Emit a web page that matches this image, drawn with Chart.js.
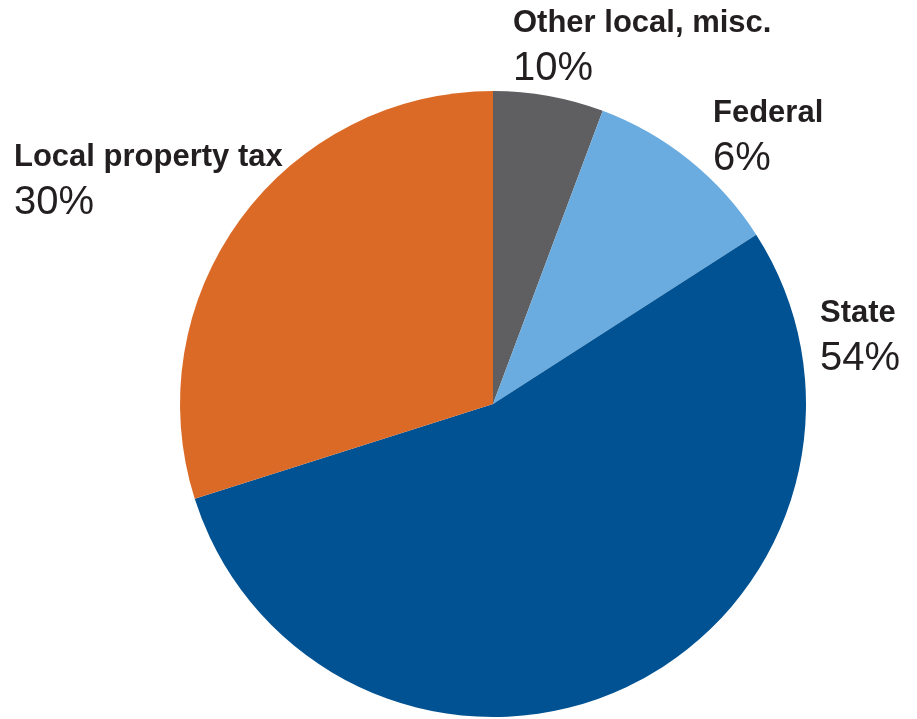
<!DOCTYPE html>
<html>
<head>
<meta charset="utf-8">
<title>Revenue sources</title>
<script src="https://cdn.jsdelivr.net/npm/chart.js@4/dist/chart.umd.min.js"></script>
<style>
    html, body { margin: 0; padding: 0; background: #fff; }
    canvas { display: block; }
</style>
</head>
<body>
<canvas id="pie" width="917" height="719"></canvas>
<script>
const categories = ['Other local, misc.', 'Federal', 'State', 'Local property tax'];
const shares = [5.7, 10.2, 54.2, 29.9];
// percent text printed under each label, as in the original graphic
const shareLabels = ['10%', '6%', '54%', '30%'];
const colors = ['#5f5f62', '#6aacdf', '#005293', '#dc6a27'];

// where each label's first line sits (left edge, baseline)
const labelSpots = [
    { x: 513, y: 32 },
    { x: 713, y: 122 },
    { x: 820, y: 322 },
    { x: 14, y: 166 }
];

const outsideLabels = {
    id: 'outsideLabels',
    afterDatasetsDraw(chart) {
        const ctx = chart.ctx;
        ctx.save();
        ctx.fillStyle = '#231f20';
        ctx.textAlign = 'left';
        ctx.textBaseline = 'alphabetic';
        categories.forEach((name, i) => {
            const p = labelSpots[i];
            ctx.font = 'bold 31px "Liberation Sans", Arial, sans-serif';
            ctx.fillText(name, p.x, p.y);
            ctx.font = '40px "Liberation Sans", Arial, sans-serif';
            ctx.fillText(shareLabels[i], p.x, p.y + 48);
        });
        ctx.restore();
    }
};

new Chart(document.getElementById('pie').getContext('2d'), {
    type: 'pie',
    data: {
        labels: categories,
        datasets: [{
            data: shares,
            backgroundColor: colors,
            borderWidth: 0
        }]
    },
    options: {
        responsive: false,
        animation: false,
        layout: { padding: { top: 91, bottom: 2, left: 180, right: 111 } },
        plugins: {
            legend: { display: false },
            tooltip: { enabled: false }
        }
    },
    plugins: [outsideLabels]
});
</script>
</body>
</html>
